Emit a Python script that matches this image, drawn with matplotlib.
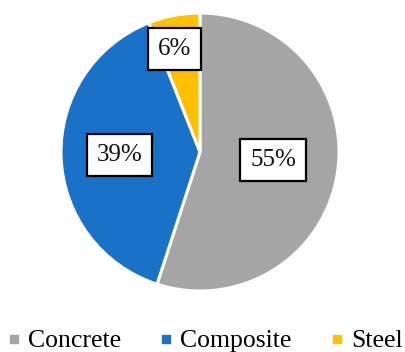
import matplotlib.pyplot as plt
import numpy as np
from matplotlib.lines import Line2D

labels = ['Concrete', 'Composite', 'Steel']
shares = [55, 39, 6]
colors = ['#A5A5A5', '#1A72C8', '#FFC000']
# where each percentage box sits: fraction of radius, and a small turn (deg) off the slice middle
label_radius = [0.53, 0.58, 0.76]
label_turn = [2.5, 0, 3]

plt.rcParams['font.family'] = ['Liberation Serif', 'DejaVu Serif']

fig = plt.figure(figsize=(4.06, 3.52), dpi=100)
r = 139
lim = 1.02
w = 2 * r * lim
ax = fig.add_axes([(200 - r * lim) / 406, (352 - 152 - r * lim) / 352, w / 406, w / 352])

wedges, _ = ax.pie(shares, colors=colors, startangle=90, counterclock=False,
                   wedgeprops=dict(edgecolor='white', linewidth=2.2))
ax.set_xlim(-lim, lim)
ax.set_ylim(-lim, lim)
ax.set_aspect('equal')

for wdg, val, lr, turn in zip(wedges, shares, label_radius, label_turn):
    mid = np.deg2rad((wdg.theta1 + wdg.theta2) / 2 + turn)
    ax.text(lr * np.cos(mid), lr * np.sin(mid), f'{val}%', ha='center', va='center',
            fontsize=18, color='#111111',
            bbox=dict(boxstyle='square,pad=0.4', fc='white', ec='black', lw=1.6))

handles = [Line2D([], [], marker='s', linestyle='none', markersize=6,
                  markerfacecolor=c, markeredgecolor=c) for c in colors]
fig.legend(handles, labels, loc='center', bbox_to_anchor=(0.505, 1 - 341 / 352),
           ncol=3, frameon=False, fontsize=18.5, handletextpad=0.3,
           columnspacing=1.5, handlelength=0.5, borderaxespad=0, borderpad=0)

fig.savefig('out.png', dpi=100)
